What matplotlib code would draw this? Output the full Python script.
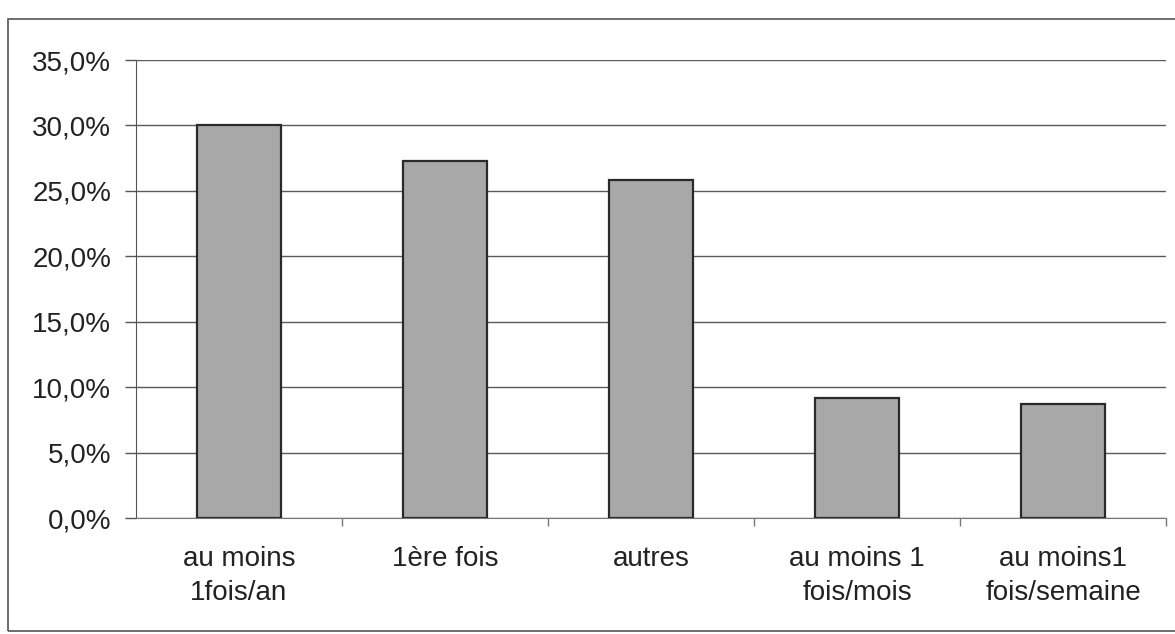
import matplotlib.pyplot as plt
from matplotlib.patches import Rectangle
from matplotlib.ticker import FuncFormatter

categories = ["au moins\n1fois/an", "1ère fois", "autres", "au moins 1\nfois/mois", "au moins1\nfois/semaine"]
values = [30.0, 27.3, 25.8, 9.2, 8.7]
yticks = [0, 5, 10, 15, 20, 25, 30, 35]

plt.rcParams['font.family'] = ['Liberation Sans', 'DejaVu Sans']

fig = plt.figure(figsize=(11.75, 6.34), dpi=100)
ax = fig.add_axes([136 / 1175, 1 - 518 / 634, 1030 / 1175, 458 / 634])

x = range(len(categories))
ax.bar(x, values, width=0.41, color="#a8a8a8", edgecolor="#2a2a2a", linewidth=1.6, zorder=3)

ax.set_ylim(0, 35)
ax.set_xlim(-0.5, len(categories) - 0.5)
ax.set_yticks(yticks)
ax.yaxis.set_major_formatter(FuncFormatter(lambda v, p: f"{v:.1f}%".replace(".", ",")))
ax.yaxis.grid(True, color="#5a5a5a", linewidth=1.0, zorder=0)

ax.set_xticks(list(x))
ax.set_xticklabels(categories, fontsize=20, color="#222222", linespacing=1.4)
ax.set_xticks([i + 0.5 for i in range(len(categories))], minor=True)
ax.tick_params(axis="x", which="major", length=0, pad=20)
ax.tick_params(axis="x", which="minor", length=6, color="#777777", width=1)
ax.tick_params(axis="y", length=8, color="#555555", width=1, pad=10, labelsize=20, labelcolor="#222222")

for s in ["top", "right"]:
    ax.spines[s].set_visible(False)
ax.spines["left"].set_color("#555555")
ax.spines["bottom"].set_color("#777777")

# outer chart frame
fig.patches.append(Rectangle((8 / 1175, 3 / 634), 1.0, 612 / 634, transform=fig.transFigure,
                             fill=False, edgecolor="#555555", linewidth=1.2))

fig.savefig("out.png", dpi=100, facecolor="white")
